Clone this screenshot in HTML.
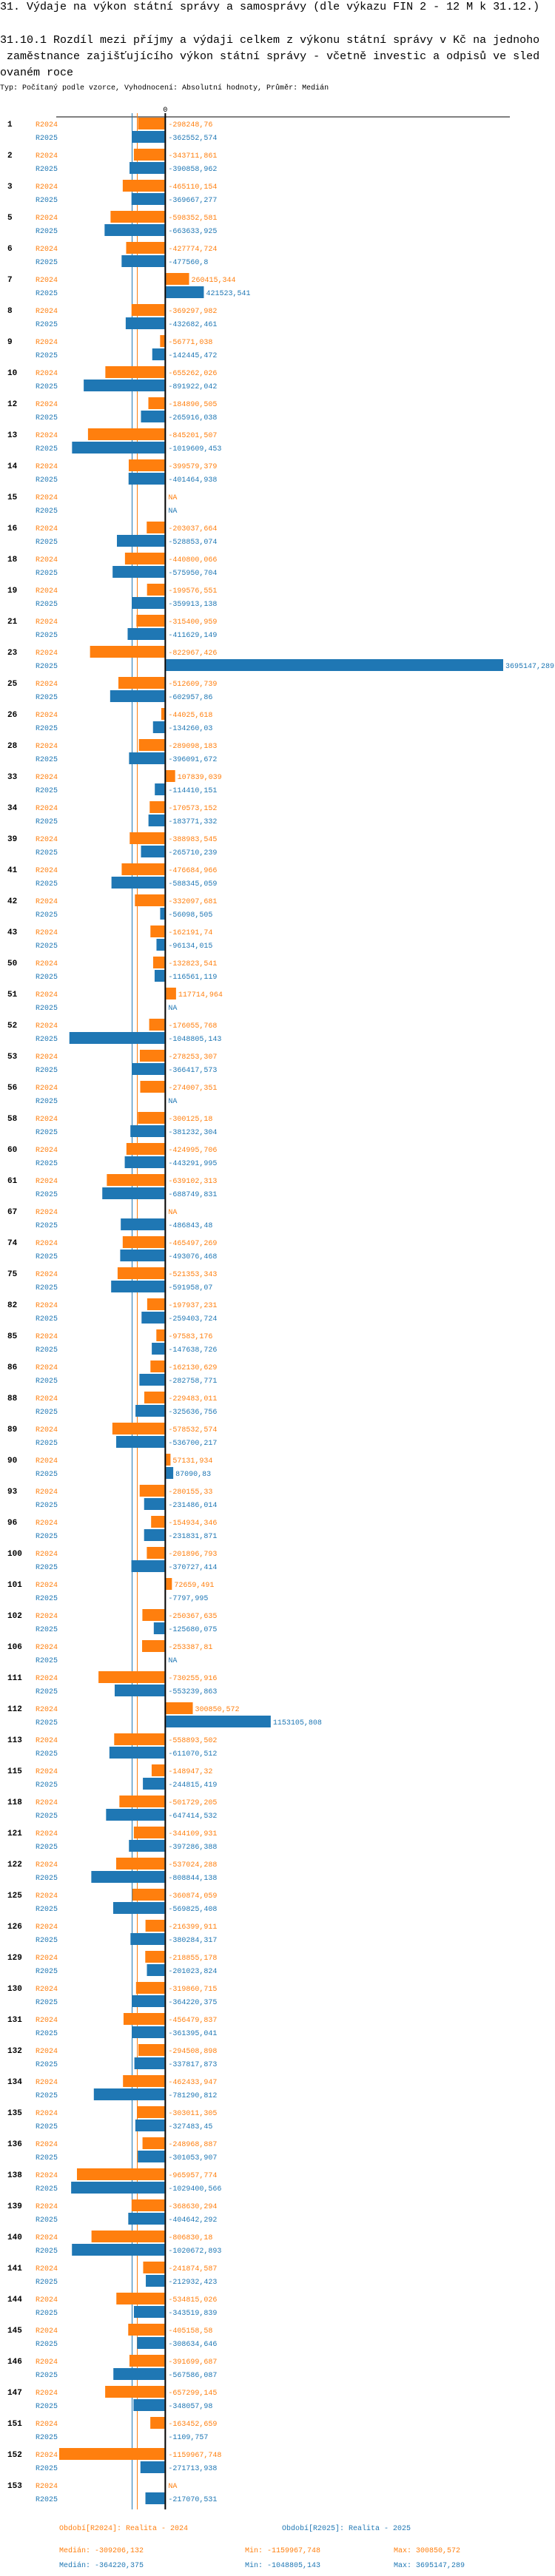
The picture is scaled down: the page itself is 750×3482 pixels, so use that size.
<!DOCTYPE html>
<html><head><meta charset="utf-8">
<style>
html,body{margin:0;padding:0;background:#fff;}
body{width:750px;height:3482px;overflow:hidden;}
svg{display:block;font-family:"Liberation Mono","DejaVu Sans Mono",monospace;}
</style></head>
<body>
<svg id="chart" width="750" height="3482" viewBox="0 0 750 3482" xmlns="http://www.w3.org/2000/svg">
<text x="0" y="13" font-size="15">31. Výdaje na výkon státní správy a samosprávy (dle výkazu FIN 2 - 12 M k 31.12.)</text>
<text font-size="15" xml:space="preserve"><tspan x="0" y="58">31.10.1 Rozdíl mezi příjmy a výdaji celkem z výkonu státní správy v Kč na jednoho</tspan><tspan x="0" y="80"> zaměstnance zajišťujícího výkon státní správy - včetně investic a odpisů ve sled</tspan><tspan x="0" y="102">ovaném roce</tspan></text>
<text x="0" y="121" font-size="10">Typ: Počítaný podle vzorce, Vyhodnocení: Absolutní hodnoty, Průměr: Medián</text>
<g id="plot"></g>
</svg>
<script>
const categories = ["1","2","3","5","6","7","8","9","10","12","13","14","15","16","18","19","21","23","25","26","28","33","34","39","41","42","43","50","51","52","53","56","58","60","61","67","74","75","82","85","86","88","89","90","93","96","100","101","102","106","111","112","113","115","118","121","122","125","126","129","130","131","132","134","135","136","138","139","140","141","144","145","146","147","151","152","153"];
const r2024 = [-298248.76,-343711.861,-465110.154,-598352.581,-427774.724,260415.344,-369297.982,-56771.038,-655262.026,-184890.505,-845201.507,-399579.379,null,-203037.664,-440800.066,-199576.551,-315400.959,-822967.426,-512609.739,-44025.618,-289098.183,107839.039,-170573.152,-388983.545,-476684.966,-332097.681,-162191.74,-132823.541,117714.964,-176055.768,-278253.307,-274007.351,-300125.18,-424995.706,-639102.313,null,-465497.269,-521353.343,-197937.231,-97583.176,-162130.629,-229483.011,-578532.574,57131.934,-280155.33,-154934.346,-201896.793,72659.491,-250367.635,-253387.81,-730255.916,300850.572,-558893.502,-148947.32,-501729.205,-344109.931,-537024.288,-360874.059,-216399.911,-218855.178,-319860.715,-456479.837,-294508.898,-462433.947,-303011.305,-248968.887,-965957.774,-368630.294,-806830.18,-241874.587,-534815.026,-405158.58,-391699.687,-657299.145,-163452.659,-1159967.748,null];
const r2025 = [-362552.574,-390858.962,-369667.277,-663633.925,-477560.8,421523.541,-432682.461,-142445.472,-891922.042,-265916.038,-1019609.453,-401464.938,null,-528853.074,-575950.704,-359913.138,-411629.149,3695147.289,-602957.86,-134260.03,-396091.672,-114410.151,-183771.332,-265710.239,-588345.059,-56098.505,-96134.015,-116561.119,null,-1048805.143,-366417.573,null,-381232.304,-443291.995,-688749.831,-486843.48,-493076.468,-591958.07,-259403.724,-147638.726,-282758.771,-325636.756,-536700.217,87090.83,-231486.014,-231831.871,-370727.414,-7797.995,-125680.075,null,-553239.863,1153105.808,-611070.512,-244815.419,-647414.532,-397286.388,-808844.138,-569825.408,-380284.317,-201023.824,-364220.375,-361395.041,-337817.873,-781290.812,-327483.45,-301053.907,-1029400.566,-404642.292,-1020672.893,-212932.423,-343519.839,-308634.646,-567586.087,-348057.98,-1109.757,-271713.938,-217070.531];
const seriesNames = ["R2024","R2025"];
const seriesColors = ["#ff7f0e","#1f77b4"];
const legendTitles = ["Období[R2024]: Realita - 2024","Období[R2025]: Realita - 2025"];

const NS="http://www.w3.org/2000/svg";
const plot=document.getElementById('plot');
function mk(tag,attrs,txt){const e=document.createElementNS(NS,tag);for(const k in attrs)e.setAttribute(k,attrs[k]);if(txt!==undefined)e.textContent=txt;plot.appendChild(e);return e;}
function fmt(v){if(v===null)return"NA";return String(v).replace('.',',');}
function fmt3(v){return v.toFixed(3).replace('.',',');}
function median(a){const s=a.filter(v=>v!==null).sort((x,y)=>x-y);const n=s.length;return n%2?s[(n-1)/2]:(s[n/2-1]+s[n/2])/2;}

const all=r2024.concat(r2025).filter(v=>v!==null);
const dMin=Math.min(...all), dMax=Math.max(...all);
const X0=80, X1=680;
function xScale(v){return X0+(v-dMin)*(X1-X0)/(dMax-dMin);}
const zx=xScale(0);
const ROW0=167, PITCH=42, SUB=18;
function yRow(i,s){return ROW0+i*PITCH+s*SUB;}
const yEnd=yRow(categories.length-1,1)+15;

// axis
let e;
e=mk('line',{x1:76,y1:158,x2:689,y2:158,stroke:'#000','stroke-width':1});


e=mk('text',{x:zx,y:151,'font-size':10,'text-anchor':'middle',fill:'#000'},'0');



// median lines
const series=[r2024,r2025];
const meds=series.map(median);
[1,0].forEach(s=>{
  const mx=Math.round(xScale(meds[s]))+0.5;
  const l=mk('line',{x1:mx,y1:153,x2:mx,y2:yEnd,stroke:seriesColors[s],'stroke-width':1});
  
  
});

// rows
categories.forEach((c,i)=>{
  const t=mk('text',{x:10,y:yRow(i,0)+4,'font-size':11,'font-weight':'bold',fill:'#000'},c);
  
  
  series.forEach((arr,s)=>{
    const yc=yRow(i,s);
    const sl=mk('text',{x:48,y:yc+4,'font-size':10,fill:seriesColors[s]},seriesNames[s]);
    
    
    const v=arr[i];
    let lx=zx+4;
    if(v!==null){
      let xa,w;
      if(v<0){xa=xScale(v);w=(zx-1)-xa;lx=zx+4;}
      else{xa=zx+1;w=xScale(v)-xa;lx=xScale(v)+3;}
      const r=mk('rect',{x:xa,y:yc-8,width:Math.max(w,0),height:16,fill:seriesColors[s]});
      
      
    }
    const vl=mk('text',{x:lx,y:yc+4,'font-size':10,fill:seriesColors[s]},fmt(v));
    
    
  });
});

// zero line on top
e=mk('line',{x1:zx,y1:153,x2:zx,y2:yEnd,stroke:'#000','stroke-width':2});



// legend
const ly=yEnd+28;
legendTitles.forEach((t,s)=>{
  const l=mk('text',{x:s===0?80:381,y:ly,'font-size':10,fill:seriesColors[s]},t);
  
  
});
series.forEach((arr,s)=>{
  const vals=arr.filter(v=>v!==null);
  const yy=ly+30+s*20;
  const a=mk('text',{x:80,y:yy,'font-size':10,fill:seriesColors[s]},'Medián: '+fmt3(meds[s]));
  
  
  const b=mk('text',{x:331,y:yy,'font-size':10,fill:seriesColors[s]},'Min: '+fmt3(Math.min(...vals)));
  
  
  const d=mk('text',{x:532,y:yy,'font-size':10,fill:seriesColors[s]},'Max: '+fmt3(Math.max(...vals)));
  
  
});
</script>
</body></html>
